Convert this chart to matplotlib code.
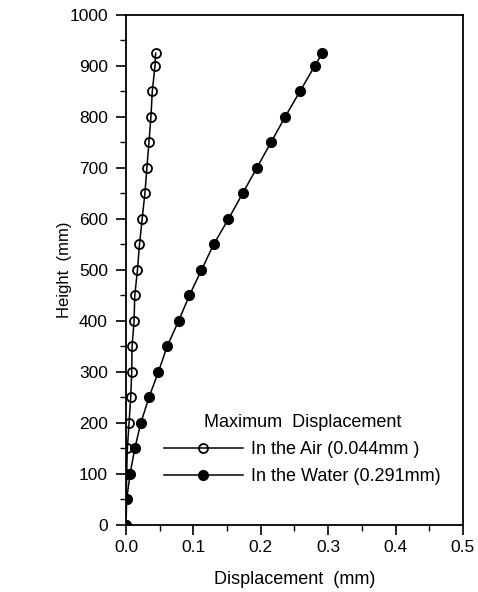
import matplotlib
matplotlib.use("Agg")
import matplotlib.pyplot as plt
from matplotlib.ticker import MultipleLocator

# heights (mm)
height_air = [0, 100, 150, 200, 250, 300, 350, 400, 450, 500, 550,
              600, 650, 700, 750, 800, 850, 900, 925]
disp_air = [0.0, 0.001, 0.002, 0.0045, 0.007, 0.0085, 0.009, 0.012, 0.013, 0.017, 0.020,
            0.024, 0.028, 0.031, 0.034, 0.037, 0.039, 0.043, 0.044]

height_water = [0, 50, 100, 150, 200, 250, 300, 350, 400, 450, 500, 550,
                600, 650, 700, 750, 800, 850, 900, 925]
disp_water = [0.0, 0.001, 0.006, 0.013, 0.022, 0.034, 0.048, 0.061, 0.078, 0.094, 0.112, 0.130,
              0.152, 0.173, 0.194, 0.215, 0.236, 0.258, 0.280, 0.291]

plt.rcParams['font.family'] = ['Liberation Sans', 'DejaVu Sans']
plt.rcParams['font.size'] = 12.5

fig = plt.figure(figsize=(4.78, 5.92), dpi=100)
ax = fig.add_axes([0.2636, 0.1132, 0.705, 0.8615])

air, = ax.plot(disp_air, height_air, 'k-', lw=1.1, marker='o', ms=6.5,
               mfc='none', mec='k', mew=1.3)
water, = ax.plot(disp_water, height_water, 'k-', lw=1.1, marker='o', ms=7,
                 mfc='k', mec='k')

ax.set_xlim(0, 0.5)
ax.set_ylim(0, 1000)
ax.xaxis.set_major_locator(MultipleLocator(0.1))
ax.xaxis.set_minor_locator(MultipleLocator(0.05))
ax.yaxis.set_major_locator(MultipleLocator(100))
ax.yaxis.set_minor_locator(MultipleLocator(50))
ax.set_xticklabels([f"{v:.1f}" for v in ax.get_xticks()])
ax.tick_params(which='major', direction='out', length=7, width=1.2,
               top=False, right=False, labelsize=12.5)
ax.tick_params(axis='y', which='major', pad=6)
ax.tick_params(which='minor', direction='out', length=4, width=1.0, top=False, right=False)
for s in ax.spines.values():
    s.set_linewidth(1.3)

ax.set_xlabel("Displacement  (mm)", labelpad=12, fontsize=13)
ax.set_ylabel("Height  (mm)", labelpad=-2, fontsize=12)

leg = ax.legend([air, water], ["In the Air (0.044mm )", "In the Water (0.291mm)"],
                title="Maximum  Displacement", frameon=False, fontsize=13,
                title_fontsize=13, loc='upper left', bbox_to_anchor=(0.085, 0.235),
                borderpad=0, handlelength=4.4, handletextpad=0.45, labelspacing=0.55)

fig.savefig("out.png", dpi=100)
